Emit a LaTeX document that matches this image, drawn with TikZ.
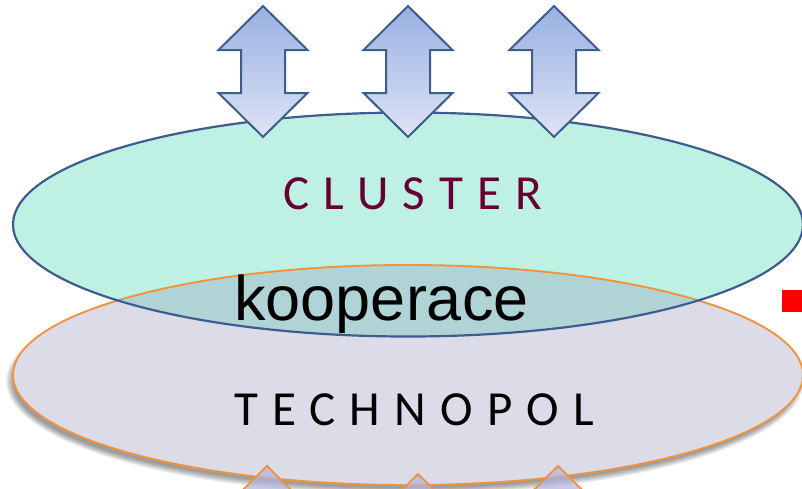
\documentclass[tikz,border=0pt]{standalone}
\usepackage{fontspec}
\usepackage{tikz}
\newfontfamily\calibri[LetterSpace=29]{Carlito}
\newfontfamily\arial{Liberation Sans}
\definecolor{clusterfill}{RGB}{190,240,227}
\definecolor{clusterline}{RGB}{62,92,142}
\definecolor{technofill}{RGB}{220,220,232}
\definecolor{technoline}{RGB}{242,146,58}
\definecolor{overlapfill}{RGB}{176,212,214}
\definecolor{arrowtop}{RGB}{152,176,225}
\definecolor{arrowbot}{RGB}{222,228,245}
\definecolor{clustertext}{RGB}{102,0,50}

\begin{document}
\begin{tikzpicture}[x=1pt,y=-1pt,
	updown/.pic={
		\path[pic actions] (0,0)--(44.5,44)--(22,44)--(22,87)--(44.5,87)--(0,131)
			--(-44.5,87)--(-22,87)--(-22,44)--(-44.5,44)--cycle;
	},
	uparrow/.style={draw=clusterline, line width=2pt, top color=arrowtop, bottom color=arrowbot},
	downarrow/.style={draw=technoline, line width=1.8pt, fill={rgb,255:red,180;green,180;blue,222}, fill opacity=0.7},
	word/.style={inner sep=0pt, anchor=base}]
	\useasboundingbox (0,0) rectangle (802,488);
	\clip (0,0) rectangle (802,488);

	% soft shadow of the technopol
	\foreach \k in {-3,...,4}
	{
		\fill[black, opacity=0.06] (405,381) ellipse ({395+\k} and {110+\k});
	}
	\fill[clusterfill] (408,224.5) ellipse (395 and 112);
	\fill[technofill] (408,375) ellipse (395 and 110);
	\begin{scope}
		\clip (408,375) ellipse (395 and 110);
		\fill[overlapfill] (408,224.5) ellipse (395 and 112);
	\end{scope}
	\draw[technoline, line width=1.9pt] (408,375) ellipse (395 and 110);
	\draw[clusterline, line width=2.2pt] (408,224.5) ellipse (395 and 112);

	\foreach \x[count=\j] in {263,408,554}
	{
		\pic[uparrow] (top\j) at (\x,6) {updown};
	}
	\foreach \x/\y[count=\j] in {267/466,418/474,558/466}
	{
		\pic[downarrow] (bottom\j) at (\x,\y) {updown};
	}

	\node[word, text=clustertext] (cluster) at (412.5,209) {\fontsize{49}{50}\calibri CLUSTER};
	\node[word] (technopol) at (414,425) {\fontsize{49}{50}\calibri TECHNOPOL};
	\node[word] (kooperace) at (381.5,320) {\fontsize{63}{70}\arial kooperace};
	\node[fill=red, minimum size=22pt, inner sep=0pt] (bullet) at (793,301) {};
\end{tikzpicture}
\end{document}
